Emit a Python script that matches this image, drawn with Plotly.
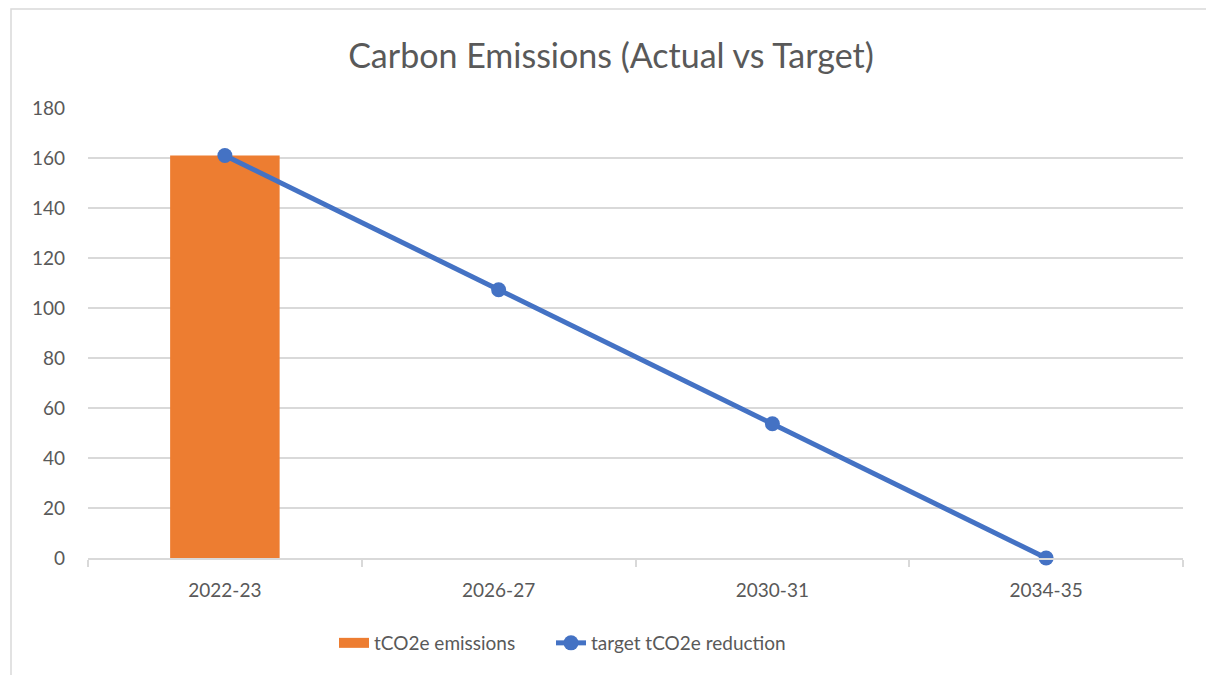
import plotly.graph_objects as go

categories = ["2022-23", "2026-27", "2030-31", "2034-35"]
emissions = [161, None, None, None]
target = [161, 107.3, 53.7, 0]
y_ticks = [0, 20, 40, 60, 80, 100, 120, 140, 160, 180]

FONT = "Lato, Open Sans, sans-serif"
GRAY = "#595959"
GRID = "#d9d9d9"
ORANGE = "#ED7D31"
BLUE = "#4472C4"

fig = go.Figure()
fig.add_trace(go.Bar(
    x=categories, y=emissions, name="tCO2e emissions",
    marker=dict(color=ORANGE, line=dict(width=0)),
    showlegend=False, legendgroup="em",
))
# legend entry for the bar series (wide rectangular swatch)
fig.add_trace(go.Scatter(
    x=[None], y=[None], name="tCO2e emissions", mode="lines",
    line=dict(color=ORANGE, width=14), legendgroup="em", legend="legend",
))
fig.add_trace(go.Scatter(
    x=categories, y=target, name="target tCO2e reduction",
    mode="lines+markers",
    line=dict(color=BLUE, width=5),
    marker=dict(color=BLUE, size=15),
    cliponaxis=False,
    legend="legend2",
))

legend_common = dict(orientation="h", xanchor="left",
                     y=(558 - 643) / 450, yanchor="middle",
                     font=dict(family=FONT, size=19, color=GRAY),
                     bgcolor="rgba(0,0,0,0)")

fig.update_layout(
    width=1206, height=675,
    margin=dict(l=88, r=23, t=108, b=117),
    paper_bgcolor="white", plot_bgcolor="white",
    bargap=0.6,
    title=dict(text="Carbon Emissions (Actual vs Target)",
               x=0.5066, xref="container", xanchor="center",
               y=1 - 56 / 675, yref="container", yanchor="middle",
               font=dict(family=FONT, size=34, color=GRAY)),
    font=dict(family=FONT, size=19, color=GRAY),
    showlegend=True,
    legend=dict(x=(334 - 88) / 1095, **legend_common),
    legend2=dict(x=(551 - 88) / 1095, **legend_common),
    xaxis=dict(type="category", tickson="boundaries", ticks="outside",
               ticklen=7, tickcolor=GRID, tickwidth=1.5,
               showline=True, linecolor=GRID, linewidth=1.5,
               showgrid=False, tickfont=dict(size=19, color=GRAY),
               ticklabelstandoff=14,
               range=[-0.5, 3.5], fixedrange=True),
    yaxis=dict(range=[0, 180], tickvals=y_ticks, showgrid=True,
               gridcolor=GRID, gridwidth=1.5, zeroline=False,
               showline=False, ticks="", ticklen=0,
               ticklabelstandoff=22,
               tickfont=dict(size=19, color=GRAY)),
    shapes=[dict(type="rect", xref="paper", yref="paper",
                 x0=(11 - 88) / 1095, x1=1.2,
                 y0=-0.4, y1=(558 - 9) / 450,
                 line=dict(color=GRID, width=1.5), fillcolor="rgba(0,0,0,0)",
                 layer="below")],
)

fig.write_html("out.html", config={"displayModeBar": False},
               post_script="document.body.style.margin='0';document.body.style.overflow='hidden';")
